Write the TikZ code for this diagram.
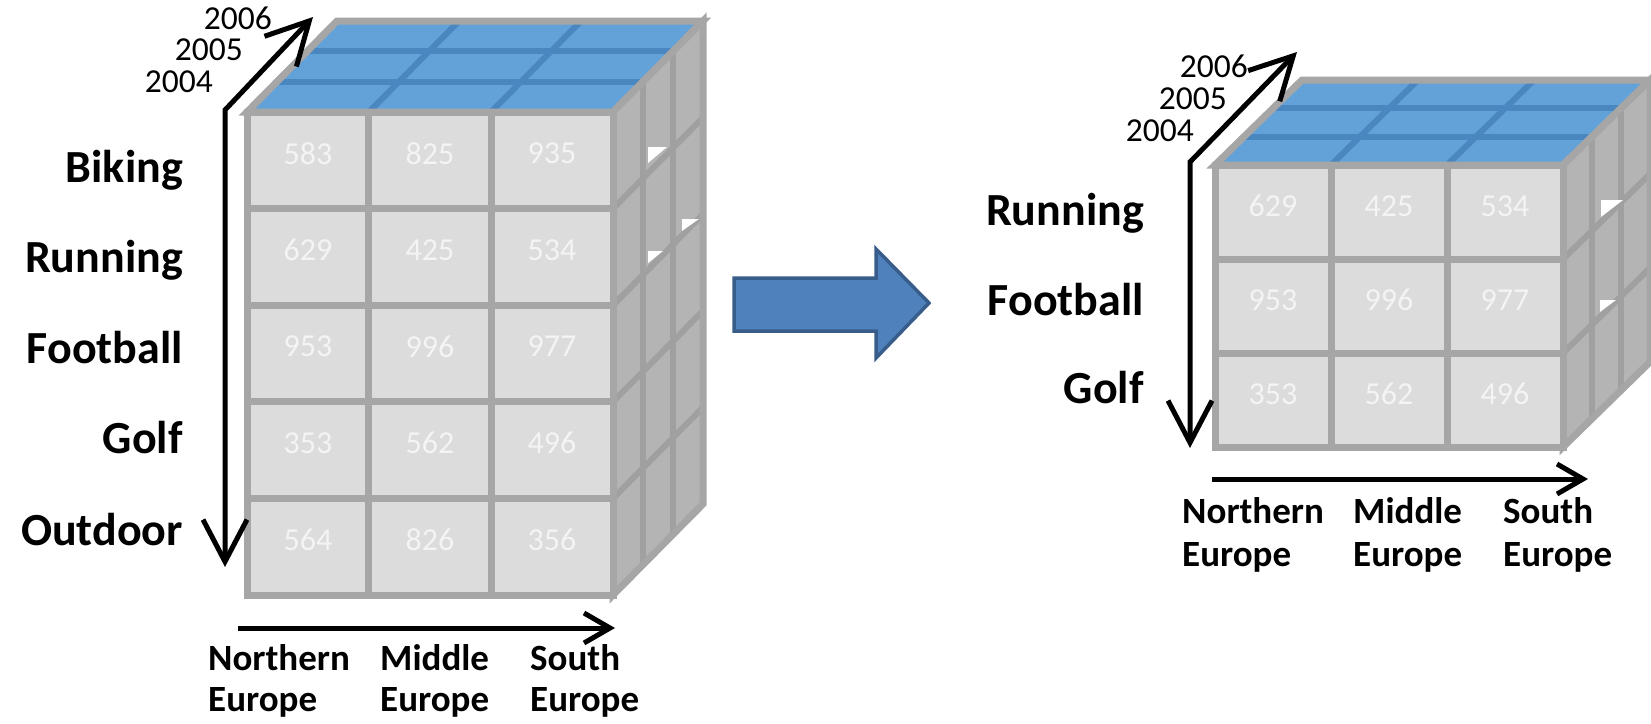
\documentclass[tikz,border=0pt]{standalone}
\usepackage{fontspec}
\setmainfont{Carlito}
\usetikzlibrary{calc,arrows.meta}
\definecolor{topblue}{HTML}{63A2D8}
\definecolor{topline}{HTML}{4A87C0}
\definecolor{framec}{HTML}{A6A6A6}
\definecolor{cellc}{HTML}{DCDCDC}
\definecolor{sidec}{HTML}{B4B4B4}
\definecolor{sidel}{HTML}{A0A0A0}
\definecolor{numc}{HTML}{F4F4F4}
\definecolor{arrfill}{HTML}{4F81BD}
\definecolor{arrline}{HTML}{385D8A}
\newcommand\mycubeX[8]{%
 \coordinate (#1FL) at (#2,#3);
 \coordinate (#1FR) at ({#2+#4},#3);
 \coordinate (#1BL) at ({#2+#6},{#3+#7});
 \coordinate (#1BR) at ({#2+#4+#6},{#3+#7});
 \coordinate (#1FBL) at (#2,{#3+#5});
 \coordinate (#1FBR) at ({#2+#4},{#3+#5});
 \coordinate (#1BBR) at ({#2+#4+#6},{#3+#5+#7});
 \pgfmathtruncatemacro\myrowsm{#8-1}
 \fill[topblue] (#1FL) -- (#1BL) -- (#1BR) -- (#1FR) -- cycle;
 \foreach \t in {0.3333,0.6667}{
   \draw[topgrid] ($(#1FL)!\t!(#1BL)$) -- ($(#1FR)!\t!(#1BR)$);
   \draw[topgrid] ($(#1FL)!\t!(#1FR)$) -- ($(#1BL)!\t!(#1BR)$);}
 \draw[framel] (#1FL) -- (#1BL) -- (#1BR) -- (#1FR) -- cycle;
 \fill[sidec] (#1FR) -- (#1BR) -- (#1BBR) -- (#1FBR) -- cycle;
 \foreach \t in {0.3333,0.6667}
   \draw[sidegrid] ($(#1FR)!\t!(#1BR)$) -- ($(#1FBR)!\t!(#1BBR)$);
 \foreach \k in {1,...,\myrowsm}
   \draw[sidegrid] ($(#1FR)!\k/#8!(#1FBR)$) -- ($(#1BR)!\k/#8!(#1BBR)$);
 \draw[framel] (#1FR) -- (#1BR) -- (#1BBR) -- (#1FBR) -- cycle;
 \fill[cellc] (#1FL) rectangle (#1FBR);
 \foreach \t in {0.3333,0.6667}
   \draw[framel] ($(#1FL)!\t!(#1FR)$) -- ($(#1FBL)!\t!(#1FBR)$);
 \foreach \k in {1,...,\myrowsm}
   \draw[framel] ($(#1FL)!\k/#8!(#1FBL)$) -- ($(#1FR)!\k/#8!(#1FBR)$);
 \draw[framel] (#1FL) rectangle (#1FBR);
}
\begin{document}
\begin{tikzpicture}[x=1pt,y=-1pt,
  topgrid/.style={topline,line width=6pt},
  framel/.style={framec,line width=7pt,line join=miter},
  sidegrid/.style={sidel,line width=6pt},
  num/.style={font=\fontsize{32}{38}\selectfont,text=numc,inner sep=0pt},
  lab/.style={font=\fontsize{46}{55}\selectfont\bfseries,anchor=base east,inner sep=0pt},
  reg/.style={font=\fontsize{37}{45}\selectfont\bfseries,anchor=base west,inner sep=0pt},
  yr/.style={font=\fontsize{33.5}{40}\selectfont,anchor=base east,inner sep=0pt},
  axis/.style={line width=5pt,black,line join=miter},
  bigV/.tip={Straight Barb[length=42pt,width=44pt]},
  smallV/.tip={Straight Barb[length=26pt,width=30pt]},
  gap/.style={fill=white,draw=none}]
\useasboundingbox (0,0) rectangle (1651,723);
\clip (0,0) rectangle (1651,723);
\fill[white] (0,0) rectangle (1651,723);

% ---------- left cube ----------
\mycubeX{L}{247}{112}{366}{483}{90}{-91}{5}
\fill[gap] (648,147) -- (667,147) -- (648,163) -- cycle;
\fill[gap] (682,219) -- (699,219) -- (682,231) -- cycle;
\fill[gap] (648,251) -- (663,251) -- (648,263) -- cycle;
\foreach \row [count=\r] in {{583,825,935},{629,425,534},{953,996,977},{353,562,496},{564,826,356}}
  \foreach \v [count=\c] in \row
    \node[num] (L-\r-\c) at ({247+(\c-0.5)*122},{112+(\r-0.5)*96.6-7}) {\v};

% ---------- right cube ----------
\mycubeX{R}{1215}{165}{348}{282}{87}{-85}{3}
\fill[gap] (1601,200) -- (1623,200) -- (1601,217) -- cycle;
\fill[gap] (1600,300) -- (1616,300) -- (1600,312) -- cycle;
\foreach \row [count=\r] in {{629,425,534},{953,996,977},{353,562,496}}
  \foreach \v [count=\c] in \row
    \node[num] (R-\r-\c) at ({1215+(\c-0.5)*116},{165+(\r-0.5)*94-6}) {\v};

% ---------- left axes and labels ----------
\coordinate (Lbot) at (225,567);
\coordinate (Lcorner) at (225,110);
\coordinate (Ltop) at (313,17);
\draw[axis,{bigV}-{bigV}] (Lbot) -- (Lcorner) -- (Ltop);
\coordinate (Lx0) at (238,628);
\coordinate (Lx1) at (615,628);
\draw[axis,-{smallV}] (Lx0) -- (Lx1);
\node[yr] (Ly6) at (272,29) {2006};
\node[yr] (Ly5) at (243,60) {2005};
\node[yr] (Ly4) at (213,92) {2004};
\node[lab] (Lbik) at (183,182) {Biking};
\node[lab] (Lrun) at (183,272) {Running};
\node[lab] (Lfoo) at (183,363) {Football};
\node[lab] (Lgol) at (183,453) {Golf};
\node[lab] (Lout) at (183,545) {Outdoor};
\node[reg] (Ln1) at (208,670) {Northern};
\node[reg] (Ln2) at (208,711) {Europe};
\node[reg] (Lm1) at (380,670) {Middle};
\node[reg] (Lm2) at (380,711) {Europe};
\node[reg] (Ls1) at (530,670) {South};
\node[reg] (Ls2) at (530,711) {Europe};

% ---------- block arrow ----------
\filldraw[fill=arrfill,draw=arrline,line width=3.5pt,line join=miter]
  (734,278) -- (876,278) -- (876,249) -- (929,303) -- (876,358) -- (876,331) -- (734,331) -- cycle;

% ---------- right axes and labels ----------
\coordinate (Rbot) at (1190,448);
\coordinate (Rcorner) at (1190,162);
\coordinate (Rtop) at (1297,52);
\draw[axis,{bigV}-{bigV}] (Rbot) -- (Rcorner) -- (Rtop);
\coordinate (Rx0) at (1212,479);
\coordinate (Rx1) at (1588,479);
\draw[axis,-{smallV}] (Rx0) -- (Rx1);
\node[yr] (Ry6) at (1248,77) {2006};
\node[yr] (Ry5) at (1227,109) {2005};
\node[yr] (Ry4) at (1194,141) {2004};
\node[lab] (Rrun) at (1144,225) {Running};
\node[lab] (Rfoo) at (1144,315) {Football};
\node[lab] (Rgol) at (1144,403) {Golf};
\node[reg] (Rn1) at (1182,523) {Northern};
\node[reg] (Rn2) at (1182,566) {Europe};
\node[reg] (Rm1) at (1353,523) {Middle};
\node[reg] (Rm2) at (1353,566) {Europe};
\node[reg] (Rs1) at (1503,523) {South};
\node[reg] (Rs2) at (1503,566) {Europe};
\end{tikzpicture}
\end{document}
